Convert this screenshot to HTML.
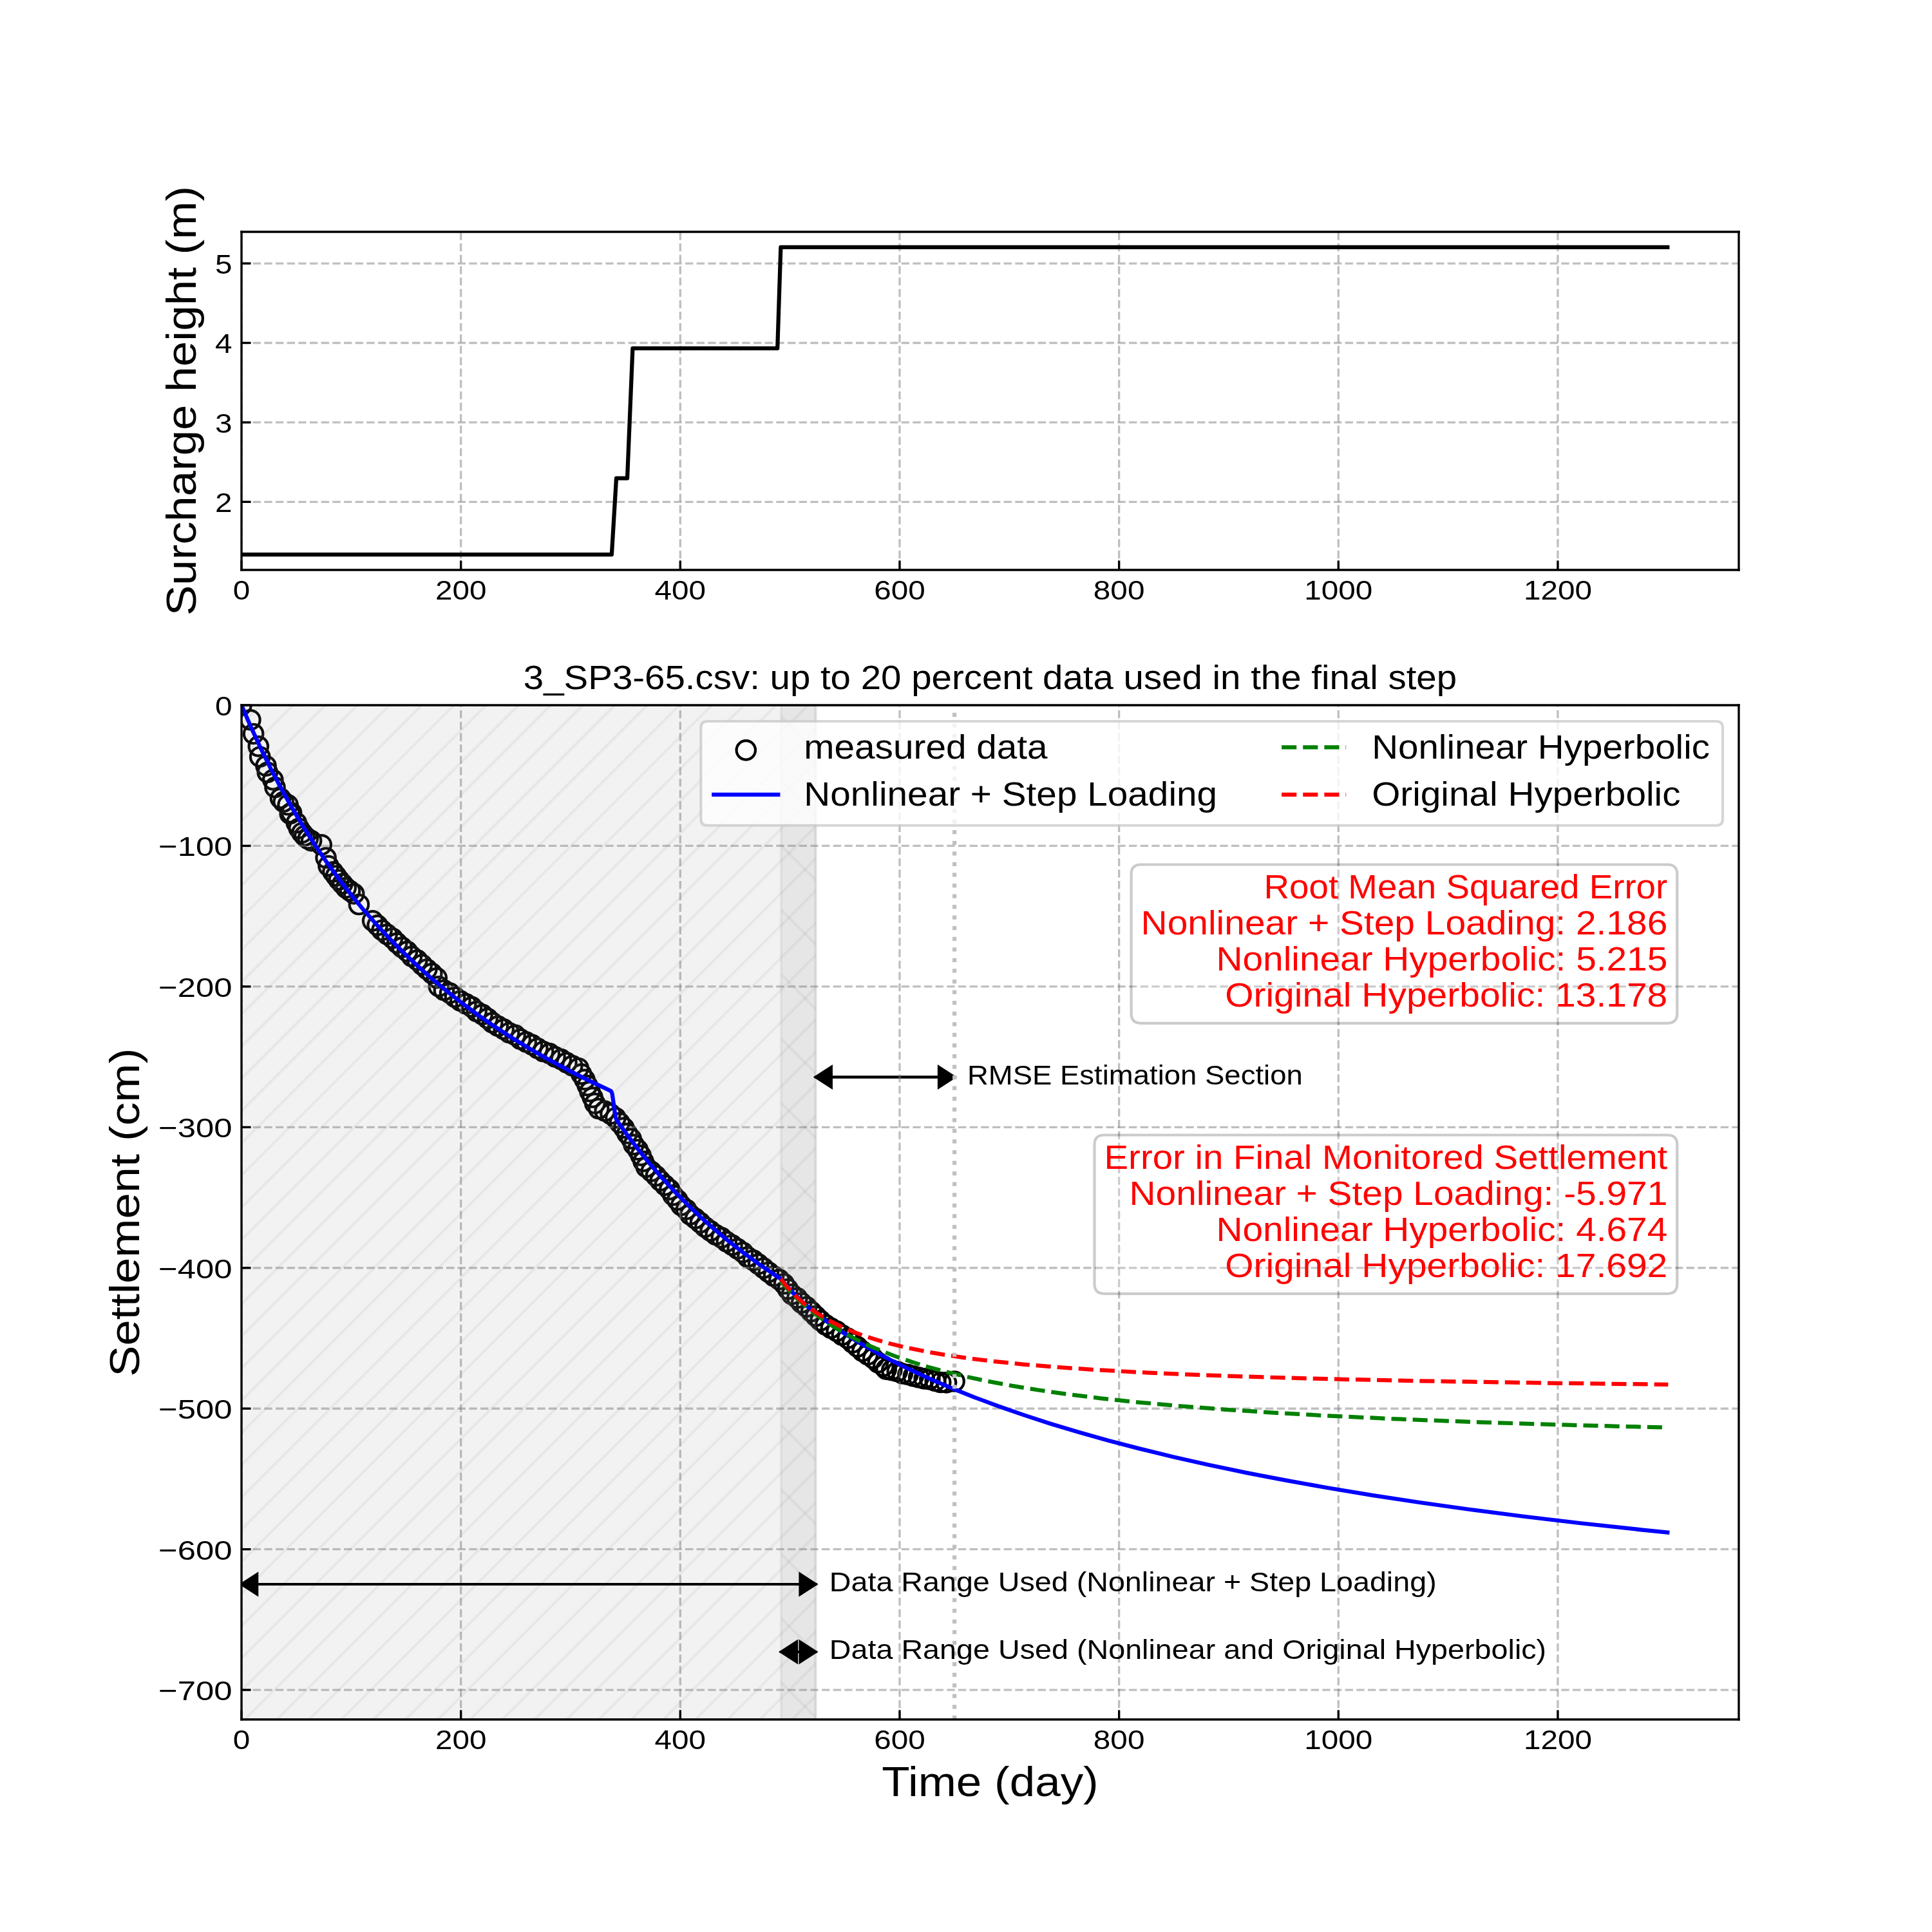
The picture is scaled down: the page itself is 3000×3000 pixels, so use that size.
<!DOCTYPE html>
<html><head><meta charset="utf-8"><title>settlement</title><style>html,body{margin:0;padding:0;background:#fff;width:3000px;height:3000px;overflow:hidden}svg{display:block;will-change:transform}</style></head><body>
<svg width="3000" height="3000" viewBox="0 0 720 720" version="1.1">
<defs>
<style type="text/css">*{stroke-linejoin: round; stroke-linecap: butt}</style>
</defs>
<g id="figure_1">
<g id="patch_1">
<path d="M 0 720 L 720 720 L 720 0 L 0 0 z
" style="fill: #ffffff"/>
</g>
<g id="axes_1">
<g id="patch_2">
<path d="M 90 212.4 L 648 212.4 L 648 86.4 L 90 86.4 z
" style="fill: #ffffff"/>
</g>
<g id="matplotlib.axis_1">
<g id="xtick_1">
<g id="line2d_1">
<path d="M 90 212.4 L 90 86.4 " clip-path="url(#pcb267eb88a)" style="fill: none; stroke-dasharray: 2.96,1.28; stroke-dashoffset: 0; stroke: #808080; stroke-opacity: 0.5; stroke-width: 0.8"/>
</g>
<g id="line2d_2">
<defs>
<path id="m6a6283d5b5" d="M 0 0 L 0 -3.5 " style="stroke: #000000; stroke-width: 0.8"/>
</defs>
<g>
<use href="#m6a6283d5b5" x="90" y="212.4" style="stroke: #000000; stroke-width: 0.8"/>
</g>
</g>
<g id="text_1">
<text style="font-size: 10.400px; font-family: &quot;Liberation Sans&quot;, sans-serif; text-anchor: middle" x="90" y="223.498437" transform="rotate(-0 90 223.498437)" textLength="6.363" lengthAdjust="spacingAndGlyphs">0</text>
</g>
</g>
<g id="xtick_2">
<g id="line2d_3">
<path d="M 171.758242 212.4 L 171.758242 86.4 " clip-path="url(#pcb267eb88a)" style="fill: none; stroke-dasharray: 2.96,1.28; stroke-dashoffset: 0; stroke: #808080; stroke-opacity: 0.5; stroke-width: 0.8"/>
</g>
<g id="line2d_4">
<g>
<use href="#m6a6283d5b5" x="171.758242" y="212.4" style="stroke: #000000; stroke-width: 0.8"/>
</g>
</g>
<g id="text_2">
<text style="font-size: 10.400px; font-family: &quot;Liberation Sans&quot;, sans-serif; text-anchor: middle" x="171.758242" y="223.498437" transform="rotate(-0 171.758242 223.498437)" textLength="19.088" lengthAdjust="spacingAndGlyphs">200</text>
</g>
</g>
<g id="xtick_3">
<g id="line2d_5">
<path d="M 253.516484 212.4 L 253.516484 86.4 " clip-path="url(#pcb267eb88a)" style="fill: none; stroke-dasharray: 2.96,1.28; stroke-dashoffset: 0; stroke: #808080; stroke-opacity: 0.5; stroke-width: 0.8"/>
</g>
<g id="line2d_6">
<g>
<use href="#m6a6283d5b5" x="253.516484" y="212.4" style="stroke: #000000; stroke-width: 0.8"/>
</g>
</g>
<g id="text_3">
<text style="font-size: 10.400px; font-family: &quot;Liberation Sans&quot;, sans-serif; text-anchor: middle" x="253.516484" y="223.498437" transform="rotate(-0 253.516484 223.498437)" textLength="19.088" lengthAdjust="spacingAndGlyphs">400</text>
</g>
</g>
<g id="xtick_4">
<g id="line2d_7">
<path d="M 335.274725 212.4 L 335.274725 86.4 " clip-path="url(#pcb267eb88a)" style="fill: none; stroke-dasharray: 2.96,1.28; stroke-dashoffset: 0; stroke: #808080; stroke-opacity: 0.5; stroke-width: 0.8"/>
</g>
<g id="line2d_8">
<g>
<use href="#m6a6283d5b5" x="335.274725" y="212.4" style="stroke: #000000; stroke-width: 0.8"/>
</g>
</g>
<g id="text_4">
<text style="font-size: 10.400px; font-family: &quot;Liberation Sans&quot;, sans-serif; text-anchor: middle" x="335.274725" y="223.498437" transform="rotate(-0 335.274725 223.498437)" textLength="19.088" lengthAdjust="spacingAndGlyphs">600</text>
</g>
</g>
<g id="xtick_5">
<g id="line2d_9">
<path d="M 417.032967 212.4 L 417.032967 86.4 " clip-path="url(#pcb267eb88a)" style="fill: none; stroke-dasharray: 2.96,1.28; stroke-dashoffset: 0; stroke: #808080; stroke-opacity: 0.5; stroke-width: 0.8"/>
</g>
<g id="line2d_10">
<g>
<use href="#m6a6283d5b5" x="417.032967" y="212.4" style="stroke: #000000; stroke-width: 0.8"/>
</g>
</g>
<g id="text_5">
<text style="font-size: 10.400px; font-family: &quot;Liberation Sans&quot;, sans-serif; text-anchor: middle" x="417.032967" y="223.498437" transform="rotate(-0 417.032967 223.498437)" textLength="19.088" lengthAdjust="spacingAndGlyphs">800</text>
</g>
</g>
<g id="xtick_6">
<g id="line2d_11">
<path d="M 498.791209 212.4 L 498.791209 86.4 " clip-path="url(#pcb267eb88a)" style="fill: none; stroke-dasharray: 2.96,1.28; stroke-dashoffset: 0; stroke: #808080; stroke-opacity: 0.5; stroke-width: 0.8"/>
</g>
<g id="line2d_12">
<g>
<use href="#m6a6283d5b5" x="498.791209" y="212.4" style="stroke: #000000; stroke-width: 0.8"/>
</g>
</g>
<g id="text_6">
<text style="font-size: 10.400px; font-family: &quot;Liberation Sans&quot;, sans-serif; text-anchor: middle" x="498.791209" y="223.498437" transform="rotate(-0 498.791209 223.498437)" textLength="25.450" lengthAdjust="spacingAndGlyphs">1000</text>
</g>
</g>
<g id="xtick_7">
<g id="line2d_13">
<path d="M 580.549451 212.4 L 580.549451 86.4 " clip-path="url(#pcb267eb88a)" style="fill: none; stroke-dasharray: 2.96,1.28; stroke-dashoffset: 0; stroke: #808080; stroke-opacity: 0.5; stroke-width: 0.8"/>
</g>
<g id="line2d_14">
<g>
<use href="#m6a6283d5b5" x="580.549451" y="212.4" style="stroke: #000000; stroke-width: 0.8"/>
</g>
</g>
<g id="text_7">
<text style="font-size: 10.400px; font-family: &quot;Liberation Sans&quot;, sans-serif; text-anchor: middle" x="580.549451" y="223.498437" transform="rotate(-0 580.549451 223.498437)" textLength="25.450" lengthAdjust="spacingAndGlyphs">1200</text>
</g>
</g>
</g>
<g id="matplotlib.axis_2">
<g id="ytick_1">
<g id="line2d_15">
<path d="M 90 187.033825 L 648 187.033825 " clip-path="url(#pcb267eb88a)" style="fill: none; stroke-dasharray: 2.96,1.28; stroke-dashoffset: 0; stroke: #808080; stroke-opacity: 0.5; stroke-width: 0.8"/>
</g>
<g id="line2d_16">
<defs>
<path id="m1193cbf40a" d="M 0 0 L 3.5 0 " style="stroke: #000000; stroke-width: 0.8"/>
</defs>
<g>
<use href="#m1193cbf40a" x="90" y="187.033825" style="stroke: #000000; stroke-width: 0.8"/>
</g>
</g>
<g id="text_8">
<text style="font-size: 10.400px; font-family: &quot;Liberation Sans&quot;, sans-serif; text-anchor: end" x="86.5" y="190.833043" transform="rotate(-0 86.5 190.833043)" textLength="6.363" lengthAdjust="spacingAndGlyphs">2</text>
</g>
</g>
<g id="ytick_2">
<g id="line2d_17">
<path d="M 90 157.412554 L 648 157.412554 " clip-path="url(#pcb267eb88a)" style="fill: none; stroke-dasharray: 2.96,1.28; stroke-dashoffset: 0; stroke: #808080; stroke-opacity: 0.5; stroke-width: 0.8"/>
</g>
<g id="line2d_18">
<g>
<use href="#m1193cbf40a" x="90" y="157.412554" style="stroke: #000000; stroke-width: 0.8"/>
</g>
</g>
<g id="text_9">
<text style="font-size: 10.400px; font-family: &quot;Liberation Sans&quot;, sans-serif; text-anchor: end" x="86.5" y="161.211773" transform="rotate(-0 86.5 161.211773)" textLength="6.363" lengthAdjust="spacingAndGlyphs">3</text>
</g>
</g>
<g id="ytick_3">
<g id="line2d_19">
<path d="M 90 127.791283 L 648 127.791283 " clip-path="url(#pcb267eb88a)" style="fill: none; stroke-dasharray: 2.96,1.28; stroke-dashoffset: 0; stroke: #808080; stroke-opacity: 0.5; stroke-width: 0.8"/>
</g>
<g id="line2d_20">
<g>
<use href="#m1193cbf40a" x="90" y="127.791283" style="stroke: #000000; stroke-width: 0.8"/>
</g>
</g>
<g id="text_10">
<text style="font-size: 10.400px; font-family: &quot;Liberation Sans&quot;, sans-serif; text-anchor: end" x="86.5" y="131.590502" transform="rotate(-0 86.5 131.590502)" textLength="6.363" lengthAdjust="spacingAndGlyphs">4</text>
</g>
</g>
<g id="ytick_4">
<g id="line2d_21">
<path d="M 90 98.170012 L 648 98.170012 " clip-path="url(#pcb267eb88a)" style="fill: none; stroke-dasharray: 2.96,1.28; stroke-dashoffset: 0; stroke: #808080; stroke-opacity: 0.5; stroke-width: 0.8"/>
</g>
<g id="line2d_22">
<g>
<use href="#m1193cbf40a" x="90" y="98.170012" style="stroke: #000000; stroke-width: 0.8"/>
</g>
</g>
<g id="text_11">
<text style="font-size: 10.400px; font-family: &quot;Liberation Sans&quot;, sans-serif; text-anchor: end" x="86.5" y="101.969231" transform="rotate(-0 86.5 101.969231)" textLength="6.363" lengthAdjust="spacingAndGlyphs">5</text>
</g>
</g>
<g id="text_12">
<text style="font-size: 15.600px; font-family: &quot;Liberation Sans&quot;, sans-serif; text-anchor: middle" x="73.017969" y="149.4" transform="rotate(-90 73.017969 149.4)" textLength="160.123" lengthAdjust="spacingAndGlyphs">Surcharge height (m)</text>
</g>
</g>
<g id="line2d_23">
<path d="M 90 206.672727 L 227.967033 206.672727 L 229.683956 178.236307 L 233.771868 178.236307 L 235.774945 129.835151 L 289.735385 129.835151 L 290.961758 92.127273 L 621.428571 92.127273 " clip-path="url(#pcb267eb88a)" style="fill: none; stroke: #000000; stroke-width: 1.5; stroke-linecap: square"/>
</g>
<g id="patch_3">
<path d="M 90 212.4 L 90 86.4 " style="fill: none; stroke: #000000; stroke-width: 0.8; stroke-linejoin: miter; stroke-linecap: square"/>
</g>
<g id="patch_4">
<path d="M 648 212.4 L 648 86.4 " style="fill: none; stroke: #000000; stroke-width: 0.8; stroke-linejoin: miter; stroke-linecap: square"/>
</g>
<g id="patch_5">
<path d="M 90 212.4 L 648 212.4 " style="fill: none; stroke: #000000; stroke-width: 0.8; stroke-linejoin: miter; stroke-linecap: square"/>
</g>
<g id="patch_6">
<path d="M 90 86.4 L 648 86.4 " style="fill: none; stroke: #000000; stroke-width: 0.8; stroke-linejoin: miter; stroke-linecap: square"/>
</g>
</g>
<g id="axes_2">
<g id="patch_7">
<path d="M 90 640.8 L 648 640.8 L 648 262.8 L 90 262.8 z
" style="fill: #ffffff"/>
</g>
<g id="PathCollection_1">
<defs>
<path id="C0_0_34b35c3218" d="M 0 3.535534 C 0.937635 3.535534 1.836992 3.163008 2.5 2.5 C 3.163008 1.836992 3.535534 0.937635 3.535534 -0 C 3.535534 -0.937635 3.163008 -1.836992 2.5 -2.5 C 1.836992 -3.163008 0.937635 -3.535534 0 -3.535534 C -0.937635 -3.535534 -1.836992 -3.163008 -2.5 -2.5 C -3.163008 -1.836992 -3.535534 -0.937635 -3.535534 0 C -3.535534 0.937635 -3.163008 1.836992 -2.5 2.5 C -1.836992 3.163008 -0.937635 3.535534 0 3.535534 z
"/>
</defs>
<g clip-path="url(#p414d32273a)">
<use href="#C0_0_34b35c3218" x="90" y="262.8" style="fill: none; stroke: #000000"/>
</g>
<g clip-path="url(#p414d32273a)">
<use href="#C0_0_34b35c3218" x="93.335994" y="268.272052" style="fill: none; stroke: #000000"/>
</g>
<g clip-path="url(#p414d32273a)">
<use href="#C0_0_34b35c3218" x="94.463991" y="273.480102" style="fill: none; stroke: #000000"/>
</g>
<g clip-path="url(#p414d32273a)">
<use href="#C0_0_34b35c3218" x="96.311988" y="278.136147" style="fill: none; stroke: #000000"/>
</g>
<g clip-path="url(#p414d32273a)">
<use href="#C0_0_34b35c3218" x="96.887987" y="282.048184" style="fill: none; stroke: #000000"/>
</g>
<g clip-path="url(#p414d32273a)">
<use href="#C0_0_34b35c3218" x="99.119982" y="285.408216" style="fill: none; stroke: #000000"/>
</g>
<g clip-path="url(#p414d32273a)">
<use href="#C0_0_34b35c3218" x="99.671981" y="287.832239" style="fill: none; stroke: #000000"/>
</g>
<g clip-path="url(#p414d32273a)">
<use href="#C0_0_34b35c3218" x="101.711977" y="290.616266" style="fill: none; stroke: #000000"/>
</g>
<g clip-path="url(#p414d32273a)">
<use href="#C0_0_34b35c3218" x="102.479976" y="293.424293" style="fill: none; stroke: #000000"/>
</g>
<g clip-path="url(#p414d32273a)">
<use href="#C0_0_34b35c3218" x="104.519972" y="297.504332" style="fill: none; stroke: #000000"/>
</g>
<g clip-path="url(#p414d32273a)">
<use href="#C0_0_34b35c3218" x="105.64797" y="298.824344" style="fill: none; stroke: #000000"/>
</g>
<g clip-path="url(#p414d32273a)">
<use href="#C0_0_34b35c3218" x="107.303967" y="299.952355" style="fill: none; stroke: #000000"/>
</g>
<g clip-path="url(#p414d32273a)">
<use href="#C0_0_34b35c3218" x="108.047965" y="303.288387" style="fill: none; stroke: #000000"/>
</g>
<g clip-path="url(#p414d32273a)">
<use href="#C0_0_34b35c3218" x="108.623964" y="302.904383" style="fill: none; stroke: #000000"/>
</g>
<g clip-path="url(#p414d32273a)">
<use href="#C0_0_34b35c3218" x="110.47196" y="306.648419" style="fill: none; stroke: #000000"/>
</g>
<g clip-path="url(#p414d32273a)">
<use href="#C0_0_34b35c3218" x="111.407959" y="308.688438" style="fill: none; stroke: #000000"/>
</g>
<g clip-path="url(#p414d32273a)">
<use href="#C0_0_34b35c3218" x="112.535956" y="310.368454" style="fill: none; stroke: #000000"/>
</g>
<g clip-path="url(#p414d32273a)">
<use href="#C0_0_34b35c3218" x="113.471955" y="311.496465" style="fill: none; stroke: #000000"/>
</g>
<g clip-path="url(#p414d32273a)">
<use href="#C0_0_34b35c3218" x="114.767952" y="312.600476" style="fill: none; stroke: #000000"/>
</g>
<g clip-path="url(#p414d32273a)">
<use href="#C0_0_34b35c3218" x="116.06395" y="313.344483" style="fill: none; stroke: #000000"/>
</g>
<g clip-path="url(#p414d32273a)">
<use href="#C0_0_34b35c3218" x="119.807942" y="314.832497" style="fill: none; stroke: #000000"/>
</g>
<g clip-path="url(#p414d32273a)">
<use href="#C0_0_34b35c3218" x="121.463939" y="319.680543" style="fill: none; stroke: #000000"/>
</g>
<g clip-path="url(#p414d32273a)">
<use href="#C0_0_34b35c3218" x="122.399937" y="322.680572" style="fill: none; stroke: #000000"/>
</g>
<g clip-path="url(#p414d32273a)">
<use href="#C0_0_34b35c3218" x="124.079934" y="324.912593" style="fill: none; stroke: #000000"/>
</g>
<g clip-path="url(#p414d32273a)">
<use href="#C0_0_34b35c3218" x="125.207932" y="326.400608" style="fill: none; stroke: #000000"/>
</g>
<g clip-path="url(#p414d32273a)">
<use href="#C0_0_34b35c3218" x="126.31193" y="327.888622" style="fill: none; stroke: #000000"/>
</g>
<g clip-path="url(#p414d32273a)">
<use href="#C0_0_34b35c3218" x="127.631927" y="329.376636" style="fill: none; stroke: #000000"/>
</g>
<g clip-path="url(#p414d32273a)">
<use href="#C0_0_34b35c3218" x="128.927925" y="330.86465" style="fill: none; stroke: #000000"/>
</g>
<g clip-path="url(#p414d32273a)">
<use href="#C0_0_34b35c3218" x="130.439922" y="331.992661" style="fill: none; stroke: #000000"/>
</g>
<g clip-path="url(#p414d32273a)">
<use href="#C0_0_34b35c3218" x="131.927919" y="333.096672" style="fill: none; stroke: #000000"/>
</g>
<g clip-path="url(#p414d32273a)">
<use href="#C0_0_34b35c3218" x="133.775915" y="337.08071" style="fill: none; stroke: #000000"/>
</g>
<g clip-path="url(#p414d32273a)">
<use href="#C0_0_34b35c3218" x="138.875571" y="343.147701" style="fill: none; stroke: #000000"/>
</g>
<g clip-path="url(#p414d32273a)">
<use href="#C0_0_34b35c3218" x="140.673826" y="344.832871" style="fill: none; stroke: #000000"/>
</g>
<g clip-path="url(#p414d32273a)">
<use href="#C0_0_34b35c3218" x="142.340749" y="346.666731" style="fill: none; stroke: #000000"/>
</g>
<g clip-path="url(#p414d32273a)">
<use href="#C0_0_34b35c3218" x="144.256663" y="348.218689" style="fill: none; stroke: #000000"/>
</g>
<g clip-path="url(#p414d32273a)">
<use href="#C0_0_34b35c3218" x="146.258031" y="349.673901" style="fill: none; stroke: #000000"/>
</g>
<g clip-path="url(#p414d32273a)">
<use href="#C0_0_34b35c3218" x="147.996598" y="351.426647" style="fill: none; stroke: #000000"/>
</g>
<g clip-path="url(#p414d32273a)">
<use href="#C0_0_34b35c3218" x="149.828285" y="353.073948" style="fill: none; stroke: #000000"/>
</g>
<g clip-path="url(#p414d32273a)">
<use href="#C0_0_34b35c3218" x="151.779033" y="354.585346" style="fill: none; stroke: #000000"/>
</g>
<g clip-path="url(#p414d32273a)">
<use href="#C0_0_34b35c3218" x="153.454902" y="356.411266" style="fill: none; stroke: #000000"/>
</g>
<g clip-path="url(#p414d32273a)">
<use href="#C0_0_34b35c3218" x="155.50807" y="357.804664" style="fill: none; stroke: #000000"/>
</g>
<g clip-path="url(#p414d32273a)">
<use href="#C0_0_34b35c3218" x="157.277957" y="359.523241" style="fill: none; stroke: #000000"/>
</g>
<g clip-path="url(#p414d32273a)">
<use href="#C0_0_34b35c3218" x="159.095783" y="361.186788" style="fill: none; stroke: #000000"/>
</g>
<g clip-path="url(#p414d32273a)">
<use href="#C0_0_34b35c3218" x="160.980333" y="362.773742" style="fill: none; stroke: #000000"/>
</g>
<g clip-path="url(#p414d32273a)">
<use href="#C0_0_34b35c3218" x="162.788492" y="364.448386" style="fill: none; stroke: #000000"/>
</g>
<g clip-path="url(#p414d32273a)">
<use href="#C0_0_34b35c3218" x="163.520129" y="367.60772" style="fill: none; stroke: #000000"/>
</g>
<g clip-path="url(#p414d32273a)">
<use href="#C0_0_34b35c3218" x="165.466927" y="369.043956" style="fill: none; stroke: #000000"/>
</g>
<g clip-path="url(#p414d32273a)">
<use href="#C0_0_34b35c3218" x="167.652335" y="370.12555" style="fill: none; stroke: #000000"/>
</g>
<g clip-path="url(#p414d32273a)">
<use href="#C0_0_34b35c3218" x="169.560035" y="371.619898" style="fill: none; stroke: #000000"/>
</g>
<g clip-path="url(#p414d32273a)">
<use href="#C0_0_34b35c3218" x="171.553399" y="372.988667" style="fill: none; stroke: #000000"/>
</g>
<g clip-path="url(#p414d32273a)">
<use href="#C0_0_34b35c3218" x="173.690255" y="374.132882" style="fill: none; stroke: #000000"/>
</g>
<g clip-path="url(#p414d32273a)">
<use href="#C0_0_34b35c3218" x="175.826505" y="375.272258" style="fill: none; stroke: #000000"/>
</g>
<g clip-path="url(#p414d32273a)">
<use href="#C0_0_34b35c3218" x="177.62322" y="376.944591" style="fill: none; stroke: #000000"/>
</g>
<g clip-path="url(#p414d32273a)">
<use href="#C0_0_34b35c3218" x="179.766772" y="378.0915" style="fill: none; stroke: #000000"/>
</g>
<g clip-path="url(#p414d32273a)">
<use href="#C0_0_34b35c3218" x="181.722585" y="379.51159" style="fill: none; stroke: #000000"/>
</g>
<g clip-path="url(#p414d32273a)">
<use href="#C0_0_34b35c3218" x="183.522" y="381.151557" style="fill: none; stroke: #000000"/>
</g>
<g clip-path="url(#p414d32273a)">
<use href="#C0_0_34b35c3218" x="185.593913" y="382.407833" style="fill: none; stroke: #000000"/>
</g>
<g clip-path="url(#p414d32273a)">
<use href="#C0_0_34b35c3218" x="187.719362" y="383.563539" style="fill: none; stroke: #000000"/>
</g>
<g clip-path="url(#p414d32273a)">
<use href="#C0_0_34b35c3218" x="189.744041" y="384.891501" style="fill: none; stroke: #000000"/>
</g>
<g clip-path="url(#p414d32273a)">
<use href="#C0_0_34b35c3218" x="192.018192" y="385.784353" style="fill: none; stroke: #000000"/>
</g>
<g clip-path="url(#p414d32273a)">
<use href="#C0_0_34b35c3218" x="193.953422" y="387.268325" style="fill: none; stroke: #000000"/>
</g>
<g clip-path="url(#p414d32273a)">
<use href="#C0_0_34b35c3218" x="196.1292" y="388.331747" style="fill: none; stroke: #000000"/>
</g>
<g clip-path="url(#p414d32273a)">
<use href="#C0_0_34b35c3218" x="198.305793" y="389.376983" style="fill: none; stroke: #000000"/>
</g>
<g clip-path="url(#p414d32273a)">
<use href="#C0_0_34b35c3218" x="200.35196" y="390.683376" style="fill: none; stroke: #000000"/>
</g>
<g clip-path="url(#p414d32273a)">
<use href="#C0_0_34b35c3218" x="202.465443" y="391.863163" style="fill: none; stroke: #000000"/>
</g>
<g clip-path="url(#p414d32273a)">
<use href="#C0_0_34b35c3218" x="204.78902" y="392.61391" style="fill: none; stroke: #000000"/>
</g>
<g clip-path="url(#p414d32273a)">
<use href="#C0_0_34b35c3218" x="206.87043" y="393.859194" style="fill: none; stroke: #000000"/>
</g>
<g clip-path="url(#p414d32273a)">
<use href="#C0_0_34b35c3218" x="209.111183" y="394.779079" style="fill: none; stroke: #000000"/>
</g>
<g clip-path="url(#p414d32273a)">
<use href="#C0_0_34b35c3218" x="211.186779" y="396.032564" style="fill: none; stroke: #000000"/>
</g>
<g clip-path="url(#p414d32273a)">
<use href="#C0_0_34b35c3218" x="213.329501" y="397.146223" style="fill: none; stroke: #000000"/>
</g>
<g clip-path="url(#p414d32273a)">
<use href="#C0_0_34b35c3218" x="215.604187" y="398.088788" style="fill: none; stroke: #000000"/>
</g>
<g clip-path="url(#p414d32273a)">
<use href="#C0_0_34b35c3218" x="216.660585" y="400.284379" style="fill: none; stroke: #000000"/>
</g>
<g clip-path="url(#p414d32273a)">
<use href="#C0_0_34b35c3218" x="217.912971" y="402.343661" style="fill: none; stroke: #000000"/>
</g>
<g clip-path="url(#p414d32273a)">
<use href="#C0_0_34b35c3218" x="218.923121" y="404.535075" style="fill: none; stroke: #000000"/>
</g>
<g clip-path="url(#p414d32273a)">
<use href="#C0_0_34b35c3218" x="219.824306" y="406.770261" style="fill: none; stroke: #000000"/>
</g>
<g clip-path="url(#p414d32273a)">
<use href="#C0_0_34b35c3218" x="220.824644" y="408.971641" style="fill: none; stroke: #000000"/>
</g>
<g clip-path="url(#p414d32273a)">
<use href="#C0_0_34b35c3218" x="221.713691" y="411.23409" style="fill: none; stroke: #000000"/>
</g>
<g clip-path="url(#p414d32273a)">
<use href="#C0_0_34b35c3218" x="223.116869" y="413.162577" style="fill: none; stroke: #000000"/>
</g>
<g clip-path="url(#p414d32273a)">
<use href="#C0_0_34b35c3218" x="225.401397" y="414.056094" style="fill: none; stroke: #000000"/>
</g>
<g clip-path="url(#p414d32273a)">
<use href="#C0_0_34b35c3218" x="227.528984" y="415.145195" style="fill: none; stroke: #000000"/>
</g>
<g clip-path="url(#p414d32273a)">
<use href="#C0_0_34b35c3218" x="229.427937" y="416.578921" style="fill: none; stroke: #000000"/>
</g>
<g clip-path="url(#p414d32273a)">
<use href="#C0_0_34b35c3218" x="230.948999" y="418.452228" style="fill: none; stroke: #000000"/>
</g>
<g clip-path="url(#p414d32273a)">
<use href="#C0_0_34b35c3218" x="232.510466" y="420.304465" style="fill: none; stroke: #000000"/>
</g>
<g clip-path="url(#p414d32273a)">
<use href="#C0_0_34b35c3218" x="233.727677" y="422.405899" style="fill: none; stroke: #000000"/>
</g>
<g clip-path="url(#p414d32273a)">
<use href="#C0_0_34b35c3218" x="235.196835" y="424.329777" style="fill: none; stroke: #000000"/>
</g>
<g clip-path="url(#p414d32273a)">
<use href="#C0_0_34b35c3218" x="236.172712" y="426.564009" style="fill: none; stroke: #000000"/>
</g>
<g clip-path="url(#p414d32273a)">
<use href="#C0_0_34b35c3218" x="237.697991" y="428.464927" style="fill: none; stroke: #000000"/>
</g>
<g clip-path="url(#p414d32273a)">
<use href="#C0_0_34b35c3218" x="238.827266" y="430.59879" style="fill: none; stroke: #000000"/>
</g>
<g clip-path="url(#p414d32273a)">
<use href="#C0_0_34b35c3218" x="239.769686" y="432.81952" style="fill: none; stroke: #000000"/>
</g>
<g clip-path="url(#p414d32273a)">
<use href="#C0_0_34b35c3218" x="240.829809" y="434.947653" style="fill: none; stroke: #000000"/>
</g>
<g clip-path="url(#p414d32273a)">
<use href="#C0_0_34b35c3218" x="242.683784" y="436.519827" style="fill: none; stroke: #000000"/>
</g>
<g clip-path="url(#p414d32273a)">
<use href="#C0_0_34b35c3218" x="244.437608" y="438.176612" style="fill: none; stroke: #000000"/>
</g>
<g clip-path="url(#p414d32273a)">
<use href="#C0_0_34b35c3218" x="246.042333" y="439.999191" style="fill: none; stroke: #000000"/>
</g>
<g clip-path="url(#p414d32273a)">
<use href="#C0_0_34b35c3218" x="247.770111" y="441.684939" style="fill: none; stroke: #000000"/>
</g>
<g clip-path="url(#p414d32273a)">
<use href="#C0_0_34b35c3218" x="249.546024" y="443.321765" style="fill: none; stroke: #000000"/>
</g>
<g clip-path="url(#p414d32273a)">
<use href="#C0_0_34b35c3218" x="250.788517" y="445.396458" style="fill: none; stroke: #000000"/>
</g>
<g clip-path="url(#p414d32273a)">
<use href="#C0_0_34b35c3218" x="252.438331" y="447.182158" style="fill: none; stroke: #000000"/>
</g>
<g clip-path="url(#p414d32273a)">
<use href="#C0_0_34b35c3218" x="253.832384" y="449.168311" style="fill: none; stroke: #000000"/>
</g>
<g clip-path="url(#p414d32273a)">
<use href="#C0_0_34b35c3218" x="255.713962" y="450.714457" style="fill: none; stroke: #000000"/>
</g>
<g clip-path="url(#p414d32273a)">
<use href="#C0_0_34b35c3218" x="257.188363" y="452.664987" style="fill: none; stroke: #000000"/>
</g>
<g clip-path="url(#p414d32273a)">
<use href="#C0_0_34b35c3218" x="259.134847" y="454.118175" style="fill: none; stroke: #000000"/>
</g>
<g clip-path="url(#p414d32273a)">
<use href="#C0_0_34b35c3218" x="260.983318" y="455.676841" style="fill: none; stroke: #000000"/>
</g>
<g clip-path="url(#p414d32273a)">
<use href="#C0_0_34b35c3218" x="262.777946" y="457.306686" style="fill: none; stroke: #000000"/>
</g>
<g clip-path="url(#p414d32273a)">
<use href="#C0_0_34b35c3218" x="264.736419" y="458.731171" style="fill: none; stroke: #000000"/>
</g>
<g clip-path="url(#p414d32273a)">
<use href="#C0_0_34b35c3218" x="266.705925" y="460.137844" style="fill: none; stroke: #000000"/>
</g>
<g clip-path="url(#p414d32273a)">
<use href="#C0_0_34b35c3218" x="268.889933" y="461.23324" style="fill: none; stroke: #000000"/>
</g>
<g clip-path="url(#p414d32273a)">
<use href="#C0_0_34b35c3218" x="270.784054" y="462.741526" style="fill: none; stroke: #000000"/>
</g>
<g clip-path="url(#p414d32273a)">
<use href="#C0_0_34b35c3218" x="272.859706" y="463.985113" style="fill: none; stroke: #000000"/>
</g>
<g clip-path="url(#p414d32273a)">
<use href="#C0_0_34b35c3218" x="274.838568" y="465.372783" style="fill: none; stroke: #000000"/>
</g>
<g clip-path="url(#p414d32273a)">
<use href="#C0_0_34b35c3218" x="276.844711" y="466.727782" style="fill: none; stroke: #000000"/>
</g>
<g clip-path="url(#p414d32273a)">
<use href="#C0_0_34b35c3218" x="278.590074" y="468.432336" style="fill: none; stroke: #000000"/>
</g>
<g clip-path="url(#p414d32273a)">
<use href="#C0_0_34b35c3218" x="280.721764" y="469.618965" style="fill: none; stroke: #000000"/>
</g>
<g clip-path="url(#p414d32273a)">
<use href="#C0_0_34b35c3218" x="282.626897" y="471.10359" style="fill: none; stroke: #000000"/>
</g>
<g clip-path="url(#p414d32273a)">
<use href="#C0_0_34b35c3218" x="284.543736" y="472.577935" style="fill: none; stroke: #000000"/>
</g>
<g clip-path="url(#p414d32273a)">
<use href="#C0_0_34b35c3218" x="286.416467" y="474.115463" style="fill: none; stroke: #000000"/>
</g>
<g clip-path="url(#p414d32273a)">
<use href="#C0_0_34b35c3218" x="288.356059" y="475.558681" style="fill: none; stroke: #000000"/>
</g>
<g clip-path="url(#p414d32273a)">
<use href="#C0_0_34b35c3218" x="290.390996" y="476.849445" style="fill: none; stroke: #000000"/>
</g>
<g clip-path="url(#p414d32273a)">
<use href="#C0_0_34b35c3218" x="292.18965" y="478.450152" style="fill: none; stroke: #000000"/>
</g>
<g clip-path="url(#p414d32273a)">
<use href="#C0_0_34b35c3218" x="293.604951" y="480.420637" style="fill: none; stroke: #000000"/>
</g>
<g clip-path="url(#p414d32273a)">
<use href="#C0_0_34b35c3218" x="295.085777" y="482.341743" style="fill: none; stroke: #000000"/>
</g>
<g clip-path="url(#p414d32273a)">
<use href="#C0_0_34b35c3218" x="297.096079" y="483.729266" style="fill: none; stroke: #000000"/>
</g>
<g clip-path="url(#p414d32273a)">
<use href="#C0_0_34b35c3218" x="298.702619" y="485.559084" style="fill: none; stroke: #000000"/>
</g>
<g clip-path="url(#p414d32273a)">
<use href="#C0_0_34b35c3218" x="300.609655" y="487.052581" style="fill: none; stroke: #000000"/>
</g>
<g clip-path="url(#p414d32273a)">
<use href="#C0_0_34b35c3218" x="302.311183" y="488.772106" style="fill: none; stroke: #000000"/>
</g>
<g clip-path="url(#p414d32273a)">
<use href="#C0_0_34b35c3218" x="304.026414" y="490.474834" style="fill: none; stroke: #000000"/>
</g>
<g clip-path="url(#p414d32273a)">
<use href="#C0_0_34b35c3218" x="305.770314" y="492.151651" style="fill: none; stroke: #000000"/>
</g>
<g clip-path="url(#p414d32273a)">
<use href="#C0_0_34b35c3218" x="307.64477" y="493.66822" style="fill: none; stroke: #000000"/>
</g>
<g clip-path="url(#p414d32273a)">
<use href="#C0_0_34b35c3218" x="309.680837" y="494.972196" style="fill: none; stroke: #000000"/>
</g>
<g clip-path="url(#p414d32273a)">
<use href="#C0_0_34b35c3218" x="311.81576" y="496.118141" style="fill: none; stroke: #000000"/>
</g>
<g clip-path="url(#p414d32273a)">
<use href="#C0_0_34b35c3218" x="313.783178" y="497.52937" style="fill: none; stroke: #000000"/>
</g>
<g clip-path="url(#p414d32273a)">
<use href="#C0_0_34b35c3218" x="315.890141" y="498.735983" style="fill: none; stroke: #000000"/>
</g>
<g clip-path="url(#p414d32273a)">
<use href="#C0_0_34b35c3218" x="317.673366" y="500.387456" style="fill: none; stroke: #000000"/>
</g>
<g clip-path="url(#p414d32273a)">
<use href="#C0_0_34b35c3218" x="319.540781" y="501.92215" style="fill: none; stroke: #000000"/>
</g>
<g clip-path="url(#p414d32273a)">
<use href="#C0_0_34b35c3218" x="321.353367" y="503.52508" style="fill: none; stroke: #000000"/>
</g>
<g clip-path="url(#p414d32273a)">
<use href="#C0_0_34b35c3218" x="323.351045" y="504.896023" style="fill: none; stroke: #000000"/>
</g>
<g clip-path="url(#p414d32273a)">
<use href="#C0_0_34b35c3218" x="325.399779" y="506.187926" style="fill: none; stroke: #000000"/>
</g>
<g clip-path="url(#p414d32273a)">
<use href="#C0_0_34b35c3218" x="327.203379" y="507.814696" style="fill: none; stroke: #000000"/>
</g>
<g clip-path="url(#p414d32273a)">
<use href="#C0_0_34b35c3218" x="329.243271" y="509.120302" style="fill: none; stroke: #000000"/>
</g>
<g clip-path="url(#p414d32273a)">
<use href="#C0_0_34b35c3218" x="330.283448" y="510.282711" style="fill: none; stroke: #000000"/>
</g>
<g clip-path="url(#p414d32273a)">
<use href="#C0_0_34b35c3218" x="332.350166" y="510.624957" style="fill: none; stroke: #000000"/>
</g>
<g clip-path="url(#p414d32273a)">
<use href="#C0_0_34b35c3218" x="334.377202" y="511.127654" style="fill: none; stroke: #000000"/>
</g>
<g clip-path="url(#p414d32273a)">
<use href="#C0_0_34b35c3218" x="336.326744" y="511.908087" style="fill: none; stroke: #000000"/>
</g>
<g clip-path="url(#p414d32273a)">
<use href="#C0_0_34b35c3218" x="338.393824" y="512.274669" style="fill: none; stroke: #000000"/>
</g>
<g clip-path="url(#p414d32273a)">
<use href="#C0_0_34b35c3218" x="340.396566" y="512.858671" style="fill: none; stroke: #000000"/>
</g>
<g clip-path="url(#p414d32273a)">
<use href="#C0_0_34b35c3218" x="342.419317" y="513.352102" style="fill: none; stroke: #000000"/>
</g>
<g clip-path="url(#p414d32273a)">
<use href="#C0_0_34b35c3218" x="344.453035" y="513.822614" style="fill: none; stroke: #000000"/>
</g>
<g clip-path="url(#p414d32273a)">
<use href="#C0_0_34b35c3218" x="346.537106" y="514.04856" style="fill: none; stroke: #000000"/>
</g>
<g clip-path="url(#p414d32273a)">
<use href="#C0_0_34b35c3218" x="348.542684" y="514.670445" style="fill: none; stroke: #000000"/>
</g>
<g clip-path="url(#p414d32273a)">
<use href="#C0_0_34b35c3218" x="350.579436" y="515.173817" style="fill: none; stroke: #000000"/>
</g>
<g clip-path="url(#p414d32273a)">
<use href="#C0_0_34b35c3218" x="352.675718" y="515.264378" style="fill: none; stroke: #000000"/>
</g>
<g clip-path="url(#p414d32273a)">
<use href="#C0_0_34b35c3218" x="355.703486" y="514.802408" style="fill: none; stroke: #000000"/>
</g>
</g>
<g id="patch_8">
<path d="M 90 640.8 L 304.002198 640.8 L 304.002198 262.8 L 90 262.8 z
" clip-path="url(#p414d32273a)" style="fill: #808080; fill-opacity: 0.1; stroke: #808080; stroke-opacity: 0.1; stroke-linejoin: miter"/>
<path d="M 90 640.8 L 304.002198 640.8 L 304.002198 262.8 L 90 262.8 z
" clip-path="url(#p414d32273a)" style="fill: url(#h4aed185dc1); opacity: 0.1; stroke: none"/>
</g>
<g id="patch_9">
<path d="M 291.084396 640.8 L 304.002198 640.8 L 304.002198 262.8 L 291.084396 262.8 z
" clip-path="url(#p414d32273a)" style="fill: #808080; fill-opacity: 0.1; stroke: #808080; stroke-opacity: 0.1; stroke-linejoin: miter"/>
<path d="M 291.084396 640.8 L 304.002198 640.8 L 304.002198 262.8 L 291.084396 262.8 z
" clip-path="url(#p414d32273a)" style="fill: url(#hb6330b8c25); opacity: 0.1; stroke: none"/>
</g>
<g id="patch_10">
<path d="M 304.002198 590.4 L 298.197363 594.18 L 298.197363 590.400262 L 90 590.400262 L 90 590.399738 L 298.197363 590.399738 L 298.197363 586.62 z
" clip-path="url(#p414d32273a)" style="stroke: #000000; stroke-linejoin: miter"/>
</g>
<g id="patch_11">
<path d="M 90 590.4 L 95.804835 586.62 L 95.804835 590.399738 L 304.002198 590.399738 L 304.002198 590.400262 L 95.804835 590.400262 L 95.804835 594.18 z
" clip-path="url(#p414d32273a)" style="stroke: #000000; stroke-linejoin: miter"/>
</g>
<g id="patch_12">
<path d="M 304.002198 615.6 L 298.197363 619.38 L 298.197363 615.600262 L 291.084396 615.600262 L 291.084396 615.599738 L 298.197363 615.599738 L 298.197363 611.82 z
" clip-path="url(#p414d32273a)" style="stroke: #000000; stroke-linejoin: miter"/>
</g>
<g id="patch_13">
<path d="M 291.084396 615.6 L 296.889231 611.82 L 296.889231 615.599738 L 304.002198 615.599738 L 304.002198 615.600262 L 296.889231 615.600262 L 296.889231 619.38 z
" clip-path="url(#p414d32273a)" style="stroke: #000000; stroke-linejoin: miter"/>
</g>
<g id="patch_14">
<path d="M 355.714286 401.4 L 349.909451 405.18 L 349.909451 401.400262 L 304.002198 401.400262 L 304.002198 401.399738 L 349.909451 401.399738 L 349.909451 397.62 z
" clip-path="url(#p414d32273a)" style="stroke: #000000; stroke-linejoin: miter"/>
</g>
<g id="patch_15">
<path d="M 304.002198 401.4 L 309.807033 397.62 L 309.807033 401.399738 L 355.714286 401.399738 L 355.714286 401.400262 L 309.807033 401.400262 L 309.807033 405.18 z
" clip-path="url(#p414d32273a)" style="stroke: #000000; stroke-linejoin: miter"/>
</g>
<g id="matplotlib.axis_3">
<g id="xtick_8">
<g id="line2d_24">
<path d="M 90 640.8 L 90 262.8 " clip-path="url(#p414d32273a)" style="fill: none; stroke-dasharray: 2.96,1.28; stroke-dashoffset: 0; stroke: #808080; stroke-opacity: 0.5; stroke-width: 0.8"/>
</g>
<g id="line2d_25">
<g>
<use href="#m6a6283d5b5" x="90" y="640.8" style="stroke: #000000; stroke-width: 0.8"/>
</g>
</g>
<g id="text_13">
<text style="font-size: 10.400px; font-family: &quot;Liberation Sans&quot;, sans-serif; text-anchor: middle" x="90" y="651.898437" transform="rotate(-0 90 651.898437)" textLength="6.363" lengthAdjust="spacingAndGlyphs">0</text>
</g>
</g>
<g id="xtick_9">
<g id="line2d_26">
<path d="M 171.758242 640.8 L 171.758242 262.8 " clip-path="url(#p414d32273a)" style="fill: none; stroke-dasharray: 2.96,1.28; stroke-dashoffset: 0; stroke: #808080; stroke-opacity: 0.5; stroke-width: 0.8"/>
</g>
<g id="line2d_27">
<g>
<use href="#m6a6283d5b5" x="171.758242" y="640.8" style="stroke: #000000; stroke-width: 0.8"/>
</g>
</g>
<g id="text_14">
<text style="font-size: 10.400px; font-family: &quot;Liberation Sans&quot;, sans-serif; text-anchor: middle" x="171.758242" y="651.898437" transform="rotate(-0 171.758242 651.898437)" textLength="19.088" lengthAdjust="spacingAndGlyphs">200</text>
</g>
</g>
<g id="xtick_10">
<g id="line2d_28">
<path d="M 253.516484 640.8 L 253.516484 262.8 " clip-path="url(#p414d32273a)" style="fill: none; stroke-dasharray: 2.96,1.28; stroke-dashoffset: 0; stroke: #808080; stroke-opacity: 0.5; stroke-width: 0.8"/>
</g>
<g id="line2d_29">
<g>
<use href="#m6a6283d5b5" x="253.516484" y="640.8" style="stroke: #000000; stroke-width: 0.8"/>
</g>
</g>
<g id="text_15">
<text style="font-size: 10.400px; font-family: &quot;Liberation Sans&quot;, sans-serif; text-anchor: middle" x="253.516484" y="651.898437" transform="rotate(-0 253.516484 651.898437)" textLength="19.088" lengthAdjust="spacingAndGlyphs">400</text>
</g>
</g>
<g id="xtick_11">
<g id="line2d_30">
<path d="M 335.274725 640.8 L 335.274725 262.8 " clip-path="url(#p414d32273a)" style="fill: none; stroke-dasharray: 2.96,1.28; stroke-dashoffset: 0; stroke: #808080; stroke-opacity: 0.5; stroke-width: 0.8"/>
</g>
<g id="line2d_31">
<g>
<use href="#m6a6283d5b5" x="335.274725" y="640.8" style="stroke: #000000; stroke-width: 0.8"/>
</g>
</g>
<g id="text_16">
<text style="font-size: 10.400px; font-family: &quot;Liberation Sans&quot;, sans-serif; text-anchor: middle" x="335.274725" y="651.898437" transform="rotate(-0 335.274725 651.898437)" textLength="19.088" lengthAdjust="spacingAndGlyphs">600</text>
</g>
</g>
<g id="xtick_12">
<g id="line2d_32">
<path d="M 417.032967 640.8 L 417.032967 262.8 " clip-path="url(#p414d32273a)" style="fill: none; stroke-dasharray: 2.96,1.28; stroke-dashoffset: 0; stroke: #808080; stroke-opacity: 0.5; stroke-width: 0.8"/>
</g>
<g id="line2d_33">
<g>
<use href="#m6a6283d5b5" x="417.032967" y="640.8" style="stroke: #000000; stroke-width: 0.8"/>
</g>
</g>
<g id="text_17">
<text style="font-size: 10.400px; font-family: &quot;Liberation Sans&quot;, sans-serif; text-anchor: middle" x="417.032967" y="651.898437" transform="rotate(-0 417.032967 651.898437)" textLength="19.088" lengthAdjust="spacingAndGlyphs">800</text>
</g>
</g>
<g id="xtick_13">
<g id="line2d_34">
<path d="M 498.791209 640.8 L 498.791209 262.8 " clip-path="url(#p414d32273a)" style="fill: none; stroke-dasharray: 2.96,1.28; stroke-dashoffset: 0; stroke: #808080; stroke-opacity: 0.5; stroke-width: 0.8"/>
</g>
<g id="line2d_35">
<g>
<use href="#m6a6283d5b5" x="498.791209" y="640.8" style="stroke: #000000; stroke-width: 0.8"/>
</g>
</g>
<g id="text_18">
<text style="font-size: 10.400px; font-family: &quot;Liberation Sans&quot;, sans-serif; text-anchor: middle" x="498.791209" y="651.898437" transform="rotate(-0 498.791209 651.898437)" textLength="25.450" lengthAdjust="spacingAndGlyphs">1000</text>
</g>
</g>
<g id="xtick_14">
<g id="line2d_36">
<path d="M 580.549451 640.8 L 580.549451 262.8 " clip-path="url(#p414d32273a)" style="fill: none; stroke-dasharray: 2.96,1.28; stroke-dashoffset: 0; stroke: #808080; stroke-opacity: 0.5; stroke-width: 0.8"/>
</g>
<g id="line2d_37">
<g>
<use href="#m6a6283d5b5" x="580.549451" y="640.8" style="stroke: #000000; stroke-width: 0.8"/>
</g>
</g>
<g id="text_19">
<text style="font-size: 10.400px; font-family: &quot;Liberation Sans&quot;, sans-serif; text-anchor: middle" x="580.549451" y="651.898437" transform="rotate(-0 580.549451 651.898437)" textLength="25.450" lengthAdjust="spacingAndGlyphs">1200</text>
</g>
</g>
<g id="text_20">
<text style="font-size: 15.600px; font-family: &quot;Liberation Sans&quot;, sans-serif; text-anchor: middle" x="369" y="669.375781" transform="rotate(-0 369 669.375781)" textLength="80.766" lengthAdjust="spacingAndGlyphs">Time (day)</text>
</g>
</g>
<g id="matplotlib.axis_4">
<g id="ytick_5">
<g id="line2d_38">
<path d="M 90 629.787746 L 648 629.787746 " clip-path="url(#p414d32273a)" style="fill: none; stroke-dasharray: 2.96,1.28; stroke-dashoffset: 0; stroke: #808080; stroke-opacity: 0.5; stroke-width: 0.8"/>
</g>
<g id="line2d_39">
<g>
<use href="#m1193cbf40a" x="90" y="629.787746" style="stroke: #000000; stroke-width: 0.8"/>
</g>
</g>
<g id="text_21">
<text style="font-size: 10.400px; font-family: &quot;Liberation Sans&quot;, sans-serif; text-anchor: end" x="86.5" y="633.586965" transform="rotate(-0 86.5 633.586965)" textLength="27.467" lengthAdjust="spacingAndGlyphs">−700</text>
</g>
</g>
<g id="ytick_6">
<g id="line2d_40">
<path d="M 90 577.360925 L 648 577.360925 " clip-path="url(#p414d32273a)" style="fill: none; stroke-dasharray: 2.96,1.28; stroke-dashoffset: 0; stroke: #808080; stroke-opacity: 0.5; stroke-width: 0.8"/>
</g>
<g id="line2d_41">
<g>
<use href="#m1193cbf40a" x="90" y="577.360925" style="stroke: #000000; stroke-width: 0.8"/>
</g>
</g>
<g id="text_22">
<text style="font-size: 10.400px; font-family: &quot;Liberation Sans&quot;, sans-serif; text-anchor: end" x="86.5" y="581.160144" transform="rotate(-0 86.5 581.160144)" textLength="27.467" lengthAdjust="spacingAndGlyphs">−600</text>
</g>
</g>
<g id="ytick_7">
<g id="line2d_42">
<path d="M 90 524.934104 L 648 524.934104 " clip-path="url(#p414d32273a)" style="fill: none; stroke-dasharray: 2.96,1.28; stroke-dashoffset: 0; stroke: #808080; stroke-opacity: 0.5; stroke-width: 0.8"/>
</g>
<g id="line2d_43">
<g>
<use href="#m1193cbf40a" x="90" y="524.934104" style="stroke: #000000; stroke-width: 0.8"/>
</g>
</g>
<g id="text_23">
<text style="font-size: 10.400px; font-family: &quot;Liberation Sans&quot;, sans-serif; text-anchor: end" x="86.5" y="528.733323" transform="rotate(-0 86.5 528.733323)" textLength="27.467" lengthAdjust="spacingAndGlyphs">−500</text>
</g>
</g>
<g id="ytick_8">
<g id="line2d_44">
<path d="M 90 472.507284 L 648 472.507284 " clip-path="url(#p414d32273a)" style="fill: none; stroke-dasharray: 2.96,1.28; stroke-dashoffset: 0; stroke: #808080; stroke-opacity: 0.5; stroke-width: 0.8"/>
</g>
<g id="line2d_45">
<g>
<use href="#m1193cbf40a" x="90" y="472.507284" style="stroke: #000000; stroke-width: 0.8"/>
</g>
</g>
<g id="text_24">
<text style="font-size: 10.400px; font-family: &quot;Liberation Sans&quot;, sans-serif; text-anchor: end" x="86.5" y="476.306502" transform="rotate(-0 86.5 476.306502)" textLength="27.467" lengthAdjust="spacingAndGlyphs">−400</text>
</g>
</g>
<g id="ytick_9">
<g id="line2d_46">
<path d="M 90 420.080463 L 648 420.080463 " clip-path="url(#p414d32273a)" style="fill: none; stroke-dasharray: 2.96,1.28; stroke-dashoffset: 0; stroke: #808080; stroke-opacity: 0.5; stroke-width: 0.8"/>
</g>
<g id="line2d_47">
<g>
<use href="#m1193cbf40a" x="90" y="420.080463" style="stroke: #000000; stroke-width: 0.8"/>
</g>
</g>
<g id="text_25">
<text style="font-size: 10.400px; font-family: &quot;Liberation Sans&quot;, sans-serif; text-anchor: end" x="86.5" y="423.879681" transform="rotate(-0 86.5 423.879681)" textLength="27.467" lengthAdjust="spacingAndGlyphs">−300</text>
</g>
</g>
<g id="ytick_10">
<g id="line2d_48">
<path d="M 90 367.653642 L 648 367.653642 " clip-path="url(#p414d32273a)" style="fill: none; stroke-dasharray: 2.96,1.28; stroke-dashoffset: 0; stroke: #808080; stroke-opacity: 0.5; stroke-width: 0.8"/>
</g>
<g id="line2d_49">
<g>
<use href="#m1193cbf40a" x="90" y="367.653642" style="stroke: #000000; stroke-width: 0.8"/>
</g>
</g>
<g id="text_26">
<text style="font-size: 10.400px; font-family: &quot;Liberation Sans&quot;, sans-serif; text-anchor: end" x="86.5" y="371.452861" transform="rotate(-0 86.5 371.452861)" textLength="27.467" lengthAdjust="spacingAndGlyphs">−200</text>
</g>
</g>
<g id="ytick_11">
<g id="line2d_50">
<path d="M 90 315.226821 L 648 315.226821 " clip-path="url(#p414d32273a)" style="fill: none; stroke-dasharray: 2.96,1.28; stroke-dashoffset: 0; stroke: #808080; stroke-opacity: 0.5; stroke-width: 0.8"/>
</g>
<g id="line2d_51">
<g>
<use href="#m1193cbf40a" x="90" y="315.226821" style="stroke: #000000; stroke-width: 0.8"/>
</g>
</g>
<g id="text_27">
<text style="font-size: 10.400px; font-family: &quot;Liberation Sans&quot;, sans-serif; text-anchor: end" x="86.5" y="319.02604" transform="rotate(-0 86.5 319.02604)" textLength="27.467" lengthAdjust="spacingAndGlyphs">−100</text>
</g>
</g>
<g id="ytick_12">
<g id="line2d_52">
<path d="M 90 262.8 L 648 262.8 " clip-path="url(#p414d32273a)" style="fill: none; stroke-dasharray: 2.96,1.28; stroke-dashoffset: 0; stroke: #808080; stroke-opacity: 0.5; stroke-width: 0.8"/>
</g>
<g id="line2d_53">
<g>
<use href="#m1193cbf40a" x="90" y="262.8" style="stroke: #000000; stroke-width: 0.8"/>
</g>
</g>
<g id="text_28">
<text style="font-size: 10.400px; font-family: &quot;Liberation Sans&quot;, sans-serif; text-anchor: end" x="86.5" y="266.599219" transform="rotate(-0 86.5 266.599219)" textLength="6.363" lengthAdjust="spacingAndGlyphs">0</text>
</g>
</g>
<g id="text_29">
<text style="font-size: 15.600px; font-family: &quot;Liberation Sans&quot;, sans-serif; text-anchor: middle" x="51.913281" y="451.8" transform="rotate(-90 51.913281 451.8)" textLength="122.468" lengthAdjust="spacingAndGlyphs">Settlement (cm)</text>
</g>
</g>
<g id="line2d_54">
<path d="M 90 262.8 L 93.679121 271.304034 L 97.358242 279.259725 L 101.037363 286.718453 L 105.125275 294.477806 L 109.213187 301.733559 L 113.301099 308.533198 L 117.389011 314.91842 L 121.885714 321.507264 L 126.382418 327.682135 L 130.879121 333.48086 L 135.375824 338.936792 L 140.281319 344.532366 L 145.186813 349.788947 L 150.092308 354.736435 L 155.406593 359.778054 L 160.720879 364.517748 L 166.443956 369.314516 L 172.167033 373.820669 L 178.298901 378.355257 L 184.430769 382.613433 L 190.971429 386.878399 L 197.512088 390.882987 L 204.461538 394.878395 L 211.81978 398.844027 L 219.178022 402.562302 L 226.945055 406.243555 L 227.762637 406.617451 L 228.171429 407.76016 L 229.397802 416.410585 L 229.806593 417.461797 L 233.894505 423.18366 L 237.982418 428.549934 L 242.479121 434.080381 L 246.975824 439.256955 L 251.472527 444.112568 L 256.378022 449.077473 L 261.283516 453.727831 L 266.597802 458.44428 L 271.912088 462.857812 L 277.226374 466.996702 L 282.949451 471.175276 L 289.081319 475.361746 L 290.716484 476.431088 L 295.621978 481.945885 L 298.483516 484.702593 L 301.753846 487.559852 L 305.432967 490.493062 L 309.92967 493.77184 L 314.835165 497.053293 L 320.149451 500.335465 L 325.872527 503.614434 L 332.413187 507.094757 L 339.362637 510.531194 L 346.720879 513.920213 L 354.487912 517.25719 L 363.072527 520.695327 L 372.065934 524.050173 L 381.468132 527.319309 L 391.279121 530.500497 L 401.907692 533.71116 L 412.945055 536.81442 L 424.8 539.914306 L 437.472527 542.990218 L 450.553846 545.936067 L 464.452747 548.839011 L 479.169231 551.685981 L 494.703297 554.46638 L 511.463736 557.236805 L 529.041758 559.915895 L 547.846154 562.555235 L 567.876923 565.139553 L 589.134066 567.65673 L 612.026374 570.139922 L 621.428571 571.098303 L 621.428571 571.098303 " clip-path="url(#p414d32273a)" style="fill: none; stroke: #0000ff; stroke-width: 1.5; stroke-linecap: square"/>
</g>
<g id="line2d_55">
<path d="M 290.961758 477.53951 L 293.823297 480.712434 L 296.684835 483.58299 L 299.955165 486.54596 L 303.225495 489.217925 L 306.904615 491.92663 L 310.583736 494.365826 L 314.671648 496.806313 L 319.168352 499.21164 L 323.665055 501.368424 L 328.570549 503.480669 L 333.884835 505.528479 L 339.607912 507.497442 L 345.73978 509.377835 L 352.689231 511.268746 L 360.047473 513.038782 L 368.223297 514.773327 L 377.216703 516.448313 L 387.027692 518.047106 L 398.065055 519.613466 L 410.328791 521.120399 L 423.818901 522.549965 L 438.944176 523.926106 L 456.113407 525.258366 L 475.326593 526.52199 L 497.401319 527.743947 L 522.337582 528.897179 L 550.952967 529.995094 L 584.473846 531.051479 L 621.673846 532.008487 L 621.673846 532.008487 " clip-path="url(#p414d32273a)" style="fill: none; stroke-dasharray: 5.55,2.4; stroke-dashoffset: 0; stroke: #008000; stroke-width: 1.5"/>
</g>
<g id="line2d_56">
<path d="M 290.961758 476.623078 L 293.005714 479.201186 L 295.458462 481.915488 L 297.911209 484.289406 L 300.363956 486.38319 L 303.225495 488.533772 L 306.087033 490.424107 L 309.357363 492.322499 L 313.036484 494.184572 L 317.124396 495.978047 L 321.621099 497.681307 L 326.526593 499.281481 L 331.840879 500.772472 L 337.972747 502.244147 L 344.513407 503.581862 L 351.871648 504.862068 L 360.456264 506.121417 L 370.267253 507.323163 L 381.304615 508.445057 L 393.977143 509.507237 L 408.693626 510.515357 L 426.271648 511.487307 L 446.711209 512.388837 L 471.238681 513.241686 L 500.671648 514.03679 L 536.645275 514.779824 L 581.203516 515.470286 L 621.673846 515.95046 L 621.673846 515.95046 " clip-path="url(#p414d32273a)" style="fill: none; stroke-dasharray: 5.55,2.4; stroke-dashoffset: 0; stroke: #ff0000; stroke-width: 1.5"/>
</g>
<g id="line2d_57">
<path d="M 355.714286 640.8 L 355.714286 262.8 " clip-path="url(#p414d32273a)" style="fill: none; stroke-dasharray: 1.5,2.475; stroke-dashoffset: 0; stroke: #c0c0c0; stroke-width: 1.5"/>
</g>
<g id="patch_16">
<path d="M 90 640.8 L 90 262.8 " style="fill: none; stroke: #000000; stroke-width: 0.8; stroke-linejoin: miter; stroke-linecap: square"/>
</g>
<g id="patch_17">
<path d="M 648 640.8 L 648 262.8 " style="fill: none; stroke: #000000; stroke-width: 0.8; stroke-linejoin: miter; stroke-linecap: square"/>
</g>
<g id="patch_18">
<path d="M 90 640.8 L 648 640.8 " style="fill: none; stroke: #000000; stroke-width: 0.8; stroke-linejoin: miter; stroke-linecap: square"/>
</g>
<g id="patch_19">
<path d="M 90 262.8 L 648 262.8 " style="fill: none; stroke: #000000; stroke-width: 0.8; stroke-linejoin: miter; stroke-linecap: square"/>
</g>
<g id="text_30">
<text style="font-size: 10.400px; font-family: &quot;Liberation Sans&quot;, sans-serif; text-anchor: start" x="309.071209" y="593.159375" transform="rotate(-0 309.071209 593.159375)" textLength="226.298" lengthAdjust="spacingAndGlyphs">Data Range Used (Nonlinear + Step Loading)</text>
</g>
<g id="text_31">
<text style="font-size: 10.400px; font-family: &quot;Liberation Sans&quot;, sans-serif; text-anchor: start" x="309.071209" y="618.359375" transform="rotate(-0 309.071209 618.359375)" textLength="267.211" lengthAdjust="spacingAndGlyphs">Data Range Used (Nonlinear and Original Hyperbolic)</text>
</g>
<g id="text_32">
<text style="font-size: 10.400px; font-family: &quot;Liberation Sans&quot;, sans-serif; text-anchor: start" x="360.456264" y="404.159375" transform="rotate(-0 360.456264 404.159375)" textLength="125.005" lengthAdjust="spacingAndGlyphs">RMSE Estimation Section</text>
</g>
<g id="text_33">
<g id="patch_20">
<path d="M 425.181696 381.325875 L 621.428571 381.325875 Q 625.028571 381.325875 625.028571 377.725875 L 625.028571 325.8 Q 625.028571 322.2 621.428571 322.2 L 425.181696 322.2 Q 421.581696 322.2 421.581696 325.8 L 421.581696 377.725875 Q 421.581696 381.325875 425.181696 381.325875 z
" style="fill: #ffffff; opacity: 0.2; stroke: #000000; stroke-linejoin: miter"/>
</g>
<text style="font-size: 12.480px; font-family: &quot;Liberation Sans&quot;, sans-serif; fill: #ff0000" transform="translate(470.999196 334.918125)" textLength="150.429" lengthAdjust="spacingAndGlyphs">Root Mean Squared Error</text>
<text style="font-size: 12.480px; font-family: &quot;Liberation Sans&quot;, sans-serif; fill: #ff0000" transform="translate(425.181696 348.3555)" textLength="196.247" lengthAdjust="spacingAndGlyphs">Nonlinear + Step Loading: 2.186</text>
<text style="font-size: 12.480px; font-family: &quot;Liberation Sans&quot;, sans-serif; fill: #ff0000" transform="translate(453.248571 361.792875)" textLength="168.180" lengthAdjust="spacingAndGlyphs">Nonlinear Hyperbolic: 5.215</text>
<text style="font-size: 12.480px; font-family: &quot;Liberation Sans&quot;, sans-serif; fill: #ff0000" transform="translate(456.524196 375.23025)" textLength="164.904" lengthAdjust="spacingAndGlyphs">Original Hyperbolic: 13.178</text>
</g>
<g id="text_34">
<g id="patch_21">
<path d="M 411.475446 482.125875 L 621.428571 482.125875 Q 625.028571 482.125875 625.028571 478.525875 L 625.028571 426.6 Q 625.028571 423 621.428571 423 L 411.475446 423 Q 407.875446 423 407.875446 426.6 L 407.875446 478.525875 Q 407.875446 482.125875 411.475446 482.125875 z
" style="fill: #ffffff; opacity: 0.2; stroke: #000000; stroke-linejoin: miter"/>
</g>
<text style="font-size: 12.480px; font-family: &quot;Liberation Sans&quot;, sans-serif; fill: #ff0000" transform="translate(411.475446 435.718125)" textLength="209.953" lengthAdjust="spacingAndGlyphs">Error in Final Monitored Settlement</text>
<text style="font-size: 12.480px; font-family: &quot;Liberation Sans&quot;, sans-serif; fill: #ff0000" transform="translate(420.852321 449.1555)" textLength="200.576" lengthAdjust="spacingAndGlyphs">Nonlinear + Step Loading: -5.971</text>
<text style="font-size: 12.480px; font-family: &quot;Liberation Sans&quot;, sans-serif; fill: #ff0000" transform="translate(453.248571 462.592875)" textLength="168.180" lengthAdjust="spacingAndGlyphs">Nonlinear Hyperbolic: 4.674</text>
<text style="font-size: 12.480px; font-family: &quot;Liberation Sans&quot;, sans-serif; fill: #ff0000" transform="translate(456.524196 476.03025)" textLength="164.904" lengthAdjust="spacingAndGlyphs">Original Hyperbolic: 17.692</text>
</g>
<g id="text_35">
<text style="font-size: 12.480px; font-family: &quot;Liberation Sans&quot;, sans-serif; text-anchor: middle" x="369" y="256.8" transform="rotate(-0 369 256.8)" textLength="347.833" lengthAdjust="spacingAndGlyphs">3_SP3-65.csv: up to 20 percent data used in the final step</text>
</g>
<g id="legend_1">
<g id="patch_22">
<path d="M 263.593125 307.6275 L 639.6 307.6275 Q 642 307.6275 642 305.2275 L 642 271.2 Q 642 268.8 639.6 268.8 L 263.593125 268.8 Q 261.193125 268.8 261.193125 271.2 L 261.193125 305.2275 Q 261.193125 307.6275 263.593125 307.6275 z
" style="fill: #ffffff; opacity: 0.8; stroke: #cccccc; stroke-linejoin: miter"/>
</g>
<g id="PathCollection_2">
<path d="M 277.993125 283.103659 C 278.93076 283.103659 279.830117 282.731133 280.493125 282.068125 C 281.156133 281.405117 281.528659 280.50576 281.528659 279.568125 C 281.528659 278.63049 281.156133 277.731133 280.493125 277.068125 C 279.830117 276.405117 278.93076 276.032591 277.993125 276.032591 C 277.05549 276.032591 276.156133 276.405117 275.493125 277.068125 C 274.830117 277.731133 274.457591 278.63049 274.457591 279.568125 C 274.457591 280.50576 274.830117 281.405117 275.493125 282.068125 C 276.156133 282.731133 277.05549 283.103659 277.993125 283.103659 L 277.993125 283.103659 z
" style="fill: none; stroke: #000000"/>
</g>
<g id="text_36">
<text style="font-size: 12.480px; font-family: &quot;Liberation Sans&quot;, sans-serif; text-anchor: start" x="299.593125" y="282.718125" transform="rotate(-0 299.593125 282.718125)" textLength="90.791" lengthAdjust="spacingAndGlyphs">measured data</text>
</g>
<g id="line2d_58">
<path d="M 265.993125 296.131875 L 277.993125 296.131875 L 289.993125 296.131875 " style="fill: none; stroke: #0000ff; stroke-width: 1.5; stroke-linecap: square"/>
</g>
<g id="text_37">
<text style="font-size: 12.480px; font-family: &quot;Liberation Sans&quot;, sans-serif; text-anchor: start" x="299.593125" y="300.331875" transform="rotate(-0 299.593125 300.331875)" textLength="154.037" lengthAdjust="spacingAndGlyphs">Nonlinear + Step Loading</text>
</g>
<g id="line2d_59">
<path d="M 477.63 278.518125 L 489.63 278.518125 L 501.63 278.518125 " style="fill: none; stroke-dasharray: 5.55,2.4; stroke-dashoffset: 0; stroke: #008000; stroke-width: 1.5"/>
</g>
<g id="text_38">
<text style="font-size: 12.480px; font-family: &quot;Liberation Sans&quot;, sans-serif; text-anchor: start" x="511.23" y="282.718125" transform="rotate(-0 511.23 282.718125)" textLength="125.970" lengthAdjust="spacingAndGlyphs">Nonlinear Hyperbolic</text>
</g>
<g id="line2d_60">
<path d="M 477.63 296.131875 L 489.63 296.131875 L 501.63 296.131875 " style="fill: none; stroke-dasharray: 5.55,2.4; stroke-dashoffset: 0; stroke: #ff0000; stroke-width: 1.5"/>
</g>
<g id="text_39">
<text style="font-size: 12.480px; font-family: &quot;Liberation Sans&quot;, sans-serif; text-anchor: start" x="511.23" y="300.331875" transform="rotate(-0 511.23 300.331875)" textLength="115.059" lengthAdjust="spacingAndGlyphs">Original Hyperbolic</text>
</g>
</g>
</g>
</g>
<defs>
<clipPath id="pcb267eb88a">
<rect x="90" y="86.4" width="558" height="126"/>
</clipPath>
<clipPath id="p414d32273a">
<rect x="90" y="262.8" width="558" height="378"/>
</clipPath>
</defs>
<defs>
<pattern id="h4aed185dc1" patternUnits="userSpaceOnUse" x="0" y="0" width="72" height="72">
<path d="M -36 36 L 36 -36 M -30 42 L 42 -30 M -24 48 L 48 -24 M -18 54 L 54 -18 M -12 60 L 60 -12 M -6 66 L 66 -6 M 0 72 L 72 0 M 6 78 L 78 6 M 12 84 L 84 12 M 18 90 L 90 18 M 24 96 L 96 24 M 30 102 L 102 30 M 36 108 L 108 36 " style="fill: #808080; stroke: #808080; stroke-width: 1.0; stroke-linecap: butt; stroke-linejoin: miter"/>
</pattern>
<pattern id="hb6330b8c25" patternUnits="userSpaceOnUse" x="0" y="0" width="72" height="72">
<path d="M -36 36 L 36 108 M -24 24 L 48 96 M -12 12 L 60 84 M 0 0 L 72 72 M 12 -12 L 84 60 M 24 -24 L 96 48 M 36 -36 L 108 36 " style="fill: #808080; stroke: #808080; stroke-width: 1.0; stroke-linecap: butt; stroke-linejoin: miter"/>
</pattern>
</defs>
</svg>

</body></html>
